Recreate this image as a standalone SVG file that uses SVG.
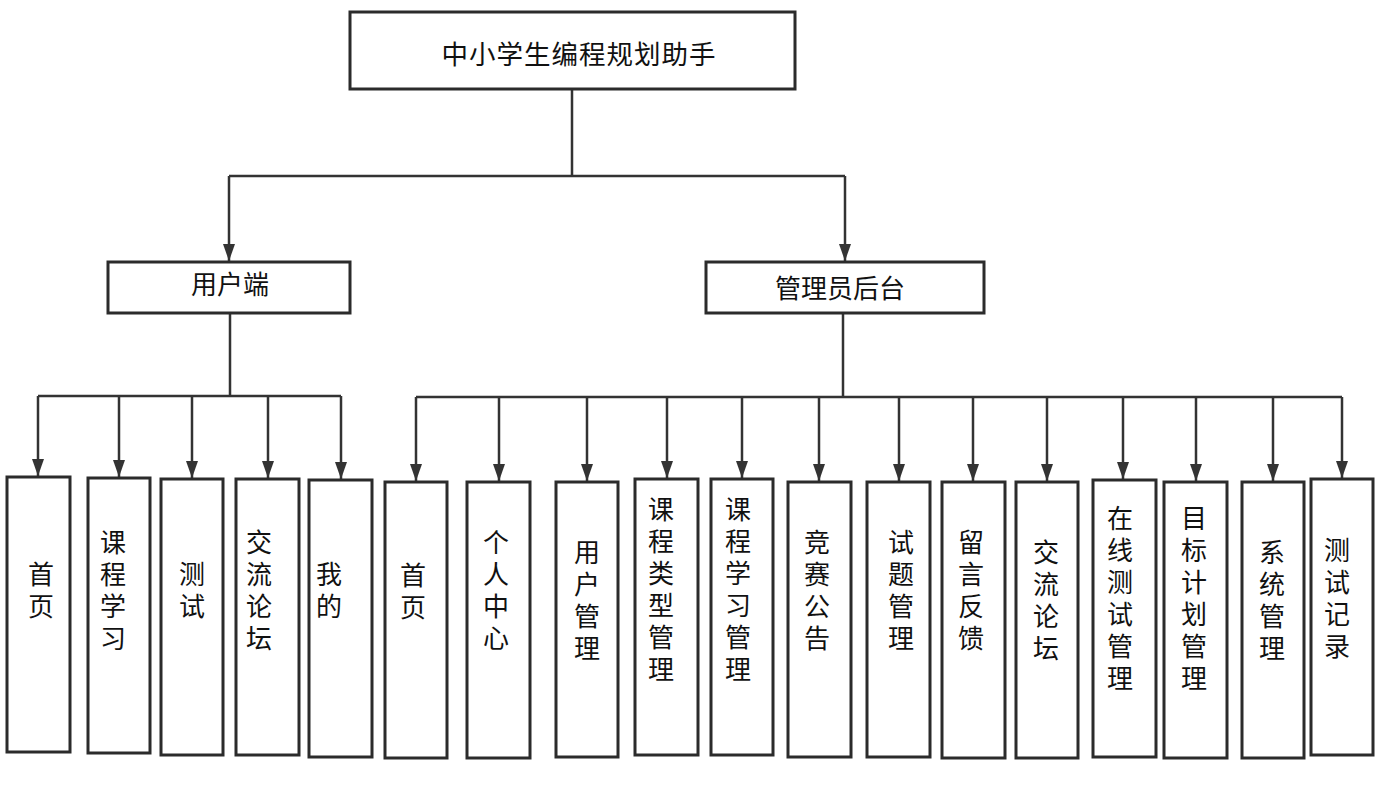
<svg xmlns="http://www.w3.org/2000/svg" width="1393" height="800" viewBox="0 0 1393 800">
<style>
.box{fill:#fff;stroke:#2b2b2b;stroke-width:3}
.ln{fill:none;stroke:#333;stroke-width:2.5}
.t{font-family:"Noto Sans CJK SC","Noto Sans",sans-serif;font-size:26px;fill:#111;text-anchor:middle}
.v{writing-mode:vertical-rl;text-orientation:upright;letter-spacing:6px}
</style>
<defs>
<marker id="ah" markerUnits="userSpaceOnUse" markerWidth="18" markerHeight="12" refX="17" refY="6" orient="auto">
<path d="M0,0 L17,6 L0,12 z" fill="#333"/>
</marker>
</defs>
<rect width="1393" height="800" fill="#fff"/>
<g id="connectors">
<path class="ln" d="M572 89 V176 M229 176 H845" stroke-width="3"/>
<path class="ln" d="M229 176 V261" marker-end="url(#ah)"/>
<path class="ln" d="M845 176 V261" marker-end="url(#ah)"/>
<path class="ln" d="M230 313 V396 M38 396 H341"/>
<path class="ln" d="M38 396 V476" marker-end="url(#ah)"/>
<path class="ln" d="M119 396 V477" marker-end="url(#ah)"/>
<path class="ln" d="M192 396 V478" marker-end="url(#ah)"/>
<path class="ln" d="M268 396 V478" marker-end="url(#ah)"/>
<path class="ln" d="M341 396 V479" marker-end="url(#ah)"/>
<path class="ln" d="M843 313 V397" stroke-width="4.5"/>
<path class="ln" d="M416 397 H1342"/>
<path class="ln" d="M416 397 V481" marker-end="url(#ah)"/>
<path class="ln" d="M499 397 V481" marker-end="url(#ah)"/>
<path class="ln" d="M587 397 V481" marker-end="url(#ah)"/>
<path class="ln" d="M667 397 V478" marker-end="url(#ah)"/>
<path class="ln" d="M742 397 V478" marker-end="url(#ah)"/>
<path class="ln" d="M819 397 V481" marker-end="url(#ah)"/>
<path class="ln" d="M899 397 V481" marker-end="url(#ah)"/>
<path class="ln" d="M973 397 V481" marker-end="url(#ah)"/>
<path class="ln" d="M1047 397 V481" marker-end="url(#ah)"/>
<path class="ln" d="M1123 397 V479" marker-end="url(#ah)"/>
<path class="ln" d="M1196 397 V481" marker-end="url(#ah)"/>
<path class="ln" d="M1273 397 V481" marker-end="url(#ah)"/>
<path class="ln" d="M1342 397 V478" marker-end="url(#ah)"/>
</g>
<g id="root"><rect class="box" x="350" y="12" width="445" height="77"/><text class="t" x="579" y="64" style="font-size:26.5px;letter-spacing:1px">中小学生编程规划助手</text></g>
<g id="user"><rect class="box" x="108" y="262" width="242" height="51"/><text class="t" x="230" y="294">用户端</text></g>
<g id="admin"><rect class="box" x="706" y="262" width="278" height="51"/><text class="t" x="840" y="298">管理员后台</text></g>

<g id="u1"><rect class="box" x="7" y="477" width="63" height="275"/><text class="t v" x="41" y="593">首页</text></g>
<g id="u2"><rect class="box" x="88" y="478" width="62" height="275"/><text class="t v" x="113" y="593">课程学习</text></g>
<g id="u3"><rect class="box" x="161" y="479" width="62" height="276"/><text class="t v" x="192" y="593">测试</text></g>
<g id="u4"><rect class="box" x="236" y="479" width="63" height="276"/><text class="t v" x="259" y="593">交流论坛</text></g>
<g id="u5"><rect class="box" x="309" y="480" width="63" height="277"/><text class="t v" x="329" y="593">我的</text></g>

<g id="a1"><rect class="box" x="385" y="482" width="62" height="276"/><text class="t v" x="413" y="594">首页</text></g>
<g id="a2"><rect class="box" x="467" y="482" width="63" height="276"/><text class="t v" x="496" y="593">个人中心</text></g>
<g id="a3"><rect class="box" x="556" y="482" width="62" height="275"/><text class="t v" x="587" y="603">用户管理</text></g>
<g id="a4"><rect class="box" x="635" y="479" width="63" height="276"/><text class="t v" x="661" y="592">课程类型管理</text></g>
<g id="a5"><rect class="box" x="711" y="479" width="62" height="276"/><text class="t v" x="738" y="592">课程学习管理</text></g>
<g id="a6"><rect class="box" x="788" y="482" width="63" height="275"/><text class="t v" x="817" y="593">竞赛公告</text></g>
<g id="a7"><rect class="box" x="867" y="482" width="63" height="275"/><text class="t v" x="901" y="593">试题管理</text></g>
<g id="a8"><rect class="box" x="942" y="482" width="63" height="276"/><text class="t v" x="971" y="593">留言反馈</text></g>
<g id="a9"><rect class="box" x="1016" y="482" width="62" height="276"/><text class="t v" x="1046" y="603">交流论坛</text></g>
<g id="a10"><rect class="box" x="1093" y="480" width="63" height="277"/><text class="t v" x="1120" y="601">在线测试管理</text></g>
<g id="a11"><rect class="box" x="1164" y="482" width="63" height="276"/><text class="t v" x="1194" y="601">目标计划管理</text></g>
<g id="a12"><rect class="box" x="1242" y="482" width="62" height="276"/><text class="t v" x="1272" y="603">系统管理</text></g>
<g id="a13"><rect class="box" x="1311" y="479" width="62" height="276"/><text class="t v" x="1337" y="601">测试记录</text></g>
</svg>
